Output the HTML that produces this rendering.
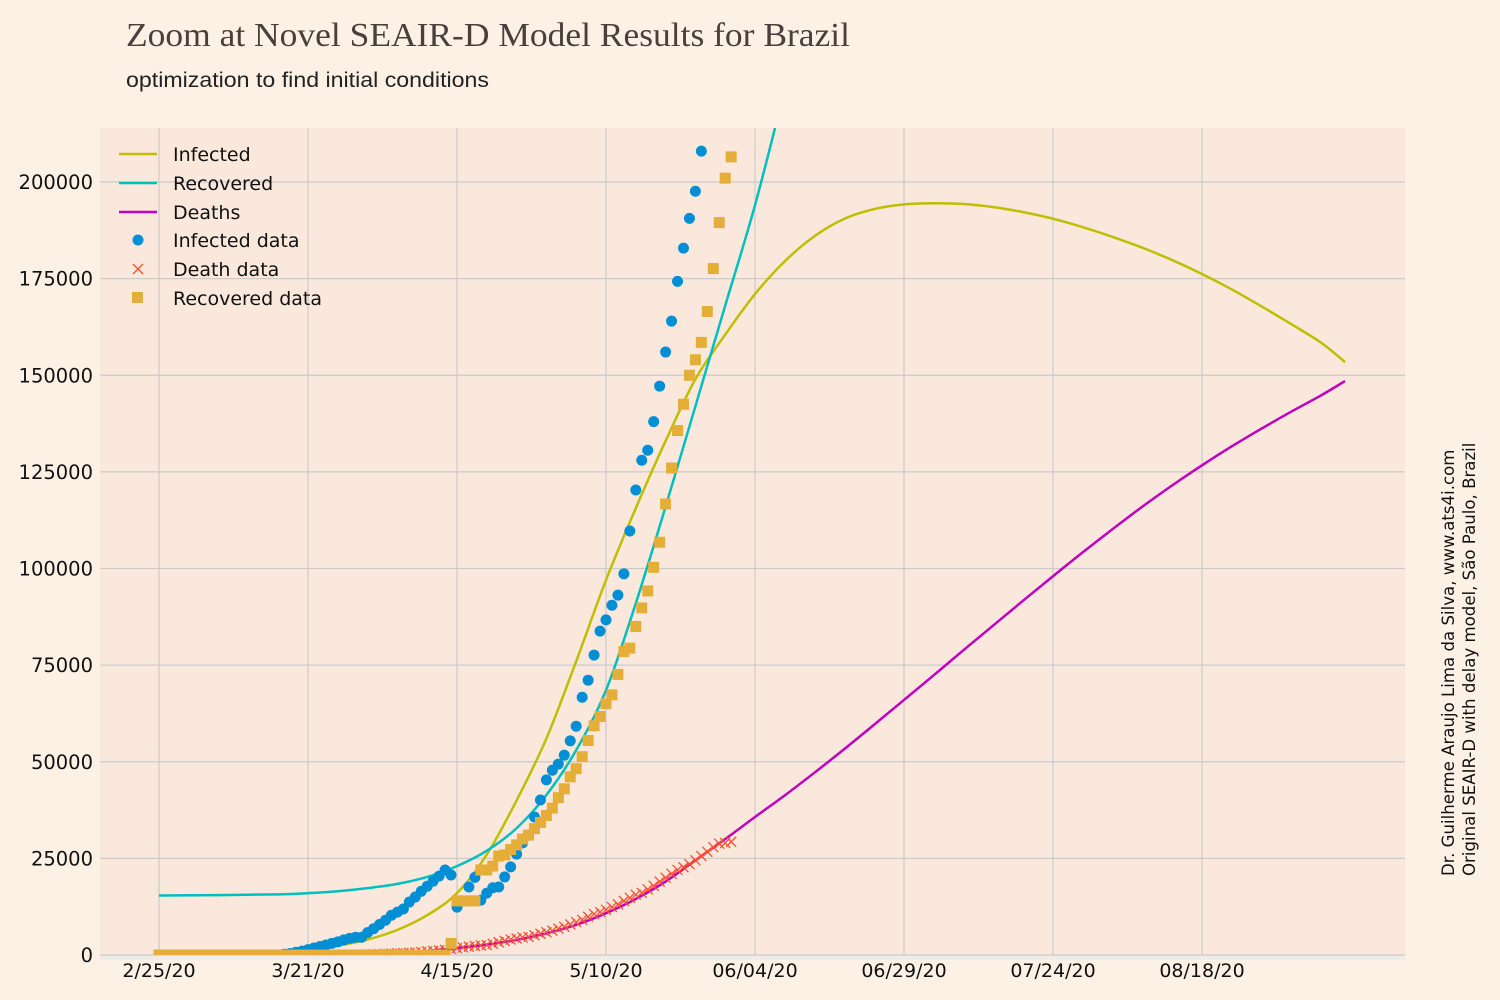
<!DOCTYPE html>
<html><head><meta charset="utf-8"><style>
html,body{margin:0;padding:0;background:#fdf1e6;}
svg{display:block;}
</style></head><body>
<svg id="chart" width="1500" height="1000" xmlns="http://www.w3.org/2000/svg">
<rect width="1500" height="1000" fill="#fdf1e6"/>
<text x="126" y="46" font-family="Liberation Serif, serif" font-size="34" fill="#4a3f3a" textLength="724" lengthAdjust="spacingAndGlyphs">Zoom at Novel SEAIR-D Model Results for Brazil</text>
<text x="126" y="87" font-family="Liberation Sans, sans-serif" font-size="21" fill="#222" textLength="363" lengthAdjust="spacingAndGlyphs">optimization to find initial conditions</text>
<rect x="100" y="128" width="1305" height="827" fill="#fae8dc"/>
<rect x="100" y="955" width="1305" height="5" fill="#f0ece8"/>
<g id="grid"></g><g id="series"></g><g id="axes"></g>
<g font-family="DejaVu Sans, sans-serif" font-size="19" fill="#111">
<line x1="119" y1="154" x2="157" y2="154" stroke="#bfbf00" stroke-width="2.5"/>
<text x="173" y="161">Infected</text>
<line x1="119" y1="183" x2="157" y2="183" stroke="#00bfbf" stroke-width="2.5"/>
<text x="173" y="190">Recovered</text>
<line x1="119" y1="212" x2="157" y2="212" stroke="#bf00bf" stroke-width="2.5"/>
<text x="173" y="219">Deaths</text>
<circle cx="138" cy="240" r="5.5" fill="#008fd5"/>
<text x="173" y="247">Infected data</text>
<path d="M133,264 L143,274 M143,264 L133,274" stroke="#fc4f30" stroke-width="1.3"/>
<text x="173" y="276">Death data</text>
<rect x="132" y="292" width="11" height="11" fill="#e5ae38"/>
<text x="173" y="305">Recovered data</text>
</g>
<g font-family="DejaVu Sans, sans-serif" font-size="16.6" fill="#111">
<text transform="translate(1454,876) rotate(-90)">Dr. Guilherme Araujo Lima da Silva, www.ats4i.com</text>
<text transform="translate(1475,876) rotate(-90)">Original SEAIR-D with delay model, São Paulo, Brazil</text>
</g>
</svg>
<script>
const xTickDays=[0,25,50,75,100,125,150,175];
const xTickLabels=["2/25/20","3/21/20","4/15/20","5/10/20","06/04/20","06/29/20","07/24/20","08/18/20"];
const yTicks=[0,25000,50000,75000,100000,125000,150000,175000,200000];
const infectedDataStart=21;
const infectedData=[200,400,700,1000,1400,1800,2200,2600,3000,3400,3900,4300,4600,4600,5800,6800,7900,9000,10300,11100,11900,13700,15000,16500,17800,19100,20400,22000,20700,
12400,14000,17600,20100,14200,16000,17400,17600,20200,22800,26100,29000,31000,35700,40100,45300,47800,49400,51700,55400,59200,66700,71100,77600,83800,86700,90500,93100,98600,109700,120300,128000,130600,138000,147200,156000,164000,174300,182900,190600,197600,208000];
const recoveredDataStart=0;
const recoveredData=[0,0,0,0,0,0,0,0,0,0,0,0,0,0,0,0,0,0,0,0,0,0,0,0,0,0,0,0,0,0,0,0,0,0,0,0,0,0,0,0,0,0,0,0,0,0,0,0,0,3000,
14000,14000,14000,14000,22000,22000,23000,25600,25900,27300,28500,30000,31000,32700,34300,36100,38000,40700,43000,46100,48200,51300,55500,59300,61700,65000,67300,72600,78500,79400,85000,89800,94200,100300,106800,116700,126000,135700,142500,150000,154000,158500,166500,177600,189500,201000,206500];
const deathDataStart=27;
const deathData=[0,0,10,20,40,60,80,110,140,180,240,300,360,430,490,570,660,800,940,1060,1200,1330,1540,1760,1950,2140,2350,2460,2580,2900,3300,3650,4000,4270,4540,4700,5100,5500,5900,6300,6800,7300,7900,8500,9100,9900,10600,11100,11700,12400,13100,14000,14800,15600,16100,17000,17900,19000,20000,21000,22000,22700,23500,24500,25600,26700,27900,28800,29000,29300];
const modelDays=[0,5,10,15,20,25,30,35,40,45,50,55,60,65,70,75,80,85,90,95,100,105,110,115,120,125,130,135,140,145,150,155,160,165,170,175,180,185,190,195,199];
const infectedModel=[20,60,150,350,700,1300,2400,4000,6500,10300,16000,26000,40000,56000,76000,97000,115600,133000,149000,160500,171000,179500,186000,190500,193000,194200,194500,194300,193500,192200,190500,188300,185800,183000,179800,176200,172200,167800,163200,158400,153400];
const recoveredModelDays=[0,10,20,25,30,35,40,45,50,55,60,65,70,75,80,85,90,95,100,105];
const recoveredModel=[15400,15500,15700,16000,16500,17300,18400,20200,23000,27000,32800,41400,53000,68500,91000,116000,142000,168000,194000,224000];
const deathsModel=[0,0,0,10,50,100,200,400,700,1100,1800,2700,3900,5600,7800,10800,14500,19000,24500,30000,35700,41300,47200,53300,59600,66000,72400,78900,85300,91700,98000,104200,110200,116000,121500,126700,131600,136200,140600,144800,148500];

const NS="http://www.w3.org/2000/svg";
const X0=159, PXD=5.96, Y0=955, PXV=773/200000;
const xs=d=>X0+d*PXD, ys=v=>Y0-v*PXV;
function mk(tag,attrs,parent){const e=document.createElementNS(NS,tag);for(const k in attrs)e.setAttribute(k,attrs[k]);parent.appendChild(e);return e;}
const grid=document.getElementById('grid'),series=document.getElementById('series'),axes=document.getElementById('axes');
xTickDays.forEach((d,i)=>{
 const l=mk('line',{x1:xs(d),x2:xs(d),y1:128,y2:955,stroke:'#cbcbcb','stroke-width':1.2},grid);
 
 
 const t=mk('text',{x:xs(d),y:977,'text-anchor':'middle','font-family':'DejaVu Sans, sans-serif','font-size':19,fill:'#111'},axes);
 t.textContent=xTickLabels[i];
 
 
});
yTicks.forEach(v=>{
 const l=mk('line',{x1:100,x2:1405,y1:ys(v),y2:ys(v),stroke:'#cbcbcb','stroke-width':1.2},grid);
 
 
 const t=mk('text',{x:93,y:ys(v)+7,'text-anchor':'end','font-family':'DejaVu Sans, sans-serif','font-size':19.5,fill:'#111'},axes);
 t.textContent=String(v);
 
 
});
const clip=mk('clipPath',{id:'pc'},series);
mk('rect',{x:100,y:128,width:1305,height:827},clip);
const g=mk('g',{'clip-path':'url(#pc)'},series);
function line(days,vals,color,name){
 const P=days.map((d,i)=>[xs(d),ys(vals[i])]);
 let d='M'+P[0][0]+','+P[0][1];
 for(let i=0;i<P.length-1;i++){
  const p0=P[Math.max(0,i-1)],p1=P[i],p2=P[i+1],p3=P[Math.min(P.length-1,i+2)];
  const c1=[p1[0]+(p2[0]-p0[0])/6,p1[1]+(p2[1]-p0[1])/6];
  const c2=[p2[0]-(p3[0]-p1[0])/6,p2[1]-(p3[1]-p1[1])/6];
  d+=`C${c1[0]},${c1[1]} ${c2[0]},${c2[1]} ${p2[0]},${p2[1]}`;
 }
 const p=mk('path',{d:d,fill:'none',stroke:color,'stroke-width':2.5,'stroke-linejoin':'round'},g);
 
 
}
line(modelDays,infectedModel,'#bfbf00','infected-model-line');
line(recoveredModelDays,recoveredModel,'#00bfbf','recovered-model-line');
line(modelDays,deathsModel,'#bf00bf','deaths-model-line');
infectedData.forEach((v,i)=>{
 const c=mk('circle',{cx:xs(infectedDataStart+i),cy:ys(v),r:5.5,fill:'#008fd5'},g);
 
 
});
deathData.forEach((v,i)=>{
 const x=xs(deathDataStart+i),y=ys(v);
 const p=mk('path',{d:`M${x-5},${y-5}L${x+5},${y+5}M${x+5},${y-5}L${x-5},${y+5}`,stroke:'#fc4f30','stroke-width':1.3},g);
 
 
});
recoveredData.forEach((v,i)=>{
 const x=xs(recoveredDataStart+i),y=ys(v);
 const r=mk('rect',{x:x-5.5,y:y-5.5,width:11,height:11,fill:'#e5ae38'},g);
 
 
});
</script>
</body></html>
